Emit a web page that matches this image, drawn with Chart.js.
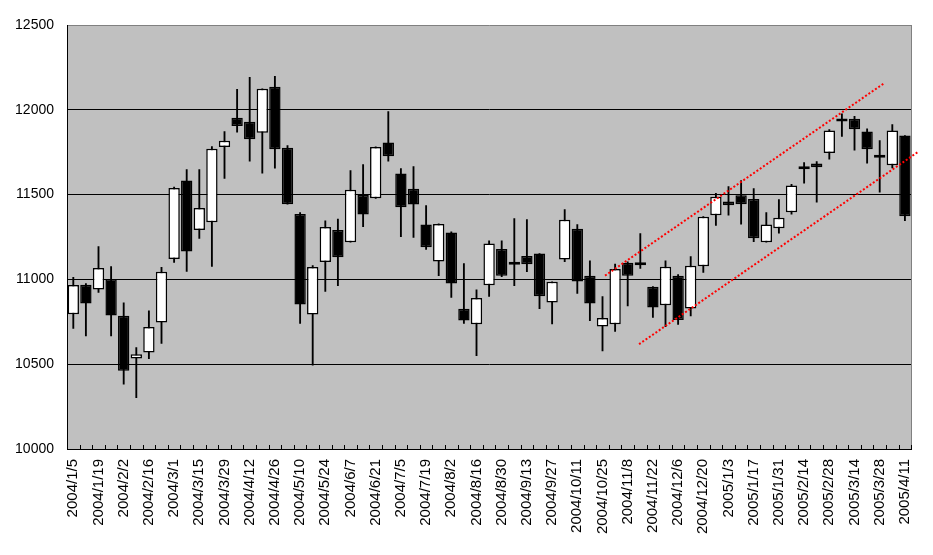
<!DOCTYPE html>
<html>
<head>
<meta charset="utf-8">
<script src="https://cdn.jsdelivr.net/npm/chart.js@4.4.1/dist/chart.umd.min.js"></script>
<style>
  body { margin: 0; background: #fff; }
  #grafico { display: block; }
</style>
</head>
<body>
<canvas id="grafico" width="933" height="555"></canvas>
<script>
const datas = [
  "2004/1/5", "2004/1/12", "2004/1/19", "2004/1/26", "2004/2/2", "2004/2/9", "2004/2/16", "2004/2/23",
  "2004/3/1", "2004/3/8", "2004/3/15", "2004/3/22", "2004/3/29", "2004/4/5", "2004/4/12", "2004/4/19",
  "2004/4/26", "2004/5/3", "2004/5/10", "2004/5/17", "2004/5/24", "2004/5/31", "2004/6/7", "2004/6/14",
  "2004/6/21", "2004/6/28", "2004/7/5", "2004/7/12", "2004/7/19", "2004/7/26", "2004/8/2", "2004/8/9",
  "2004/8/16", "2004/8/23", "2004/8/30", "2004/9/6", "2004/9/13", "2004/9/20", "2004/9/27", "2004/10/4",
  "2004/10/11", "2004/10/18", "2004/10/25", "2004/11/1", "2004/11/8", "2004/11/15", "2004/11/22", "2004/11/29",
  "2004/12/6", "2004/12/13", "2004/12/20", "2004/12/27", "2005/1/3", "2005/1/10", "2005/1/17", "2005/1/24",
  "2005/1/31", "2005/2/7", "2005/2/14", "2005/2/21", "2005/2/28", "2005/3/7", "2005/3/14", "2005/3/21",
  "2005/3/28", "2005/4/4", "2005/4/11"
];

const abertura = [
  10795, 10968, 10941, 11002, 10785, 10533, 10569, 10746, 11120, 11583, 11291, 11337, 11781, 11953, 11929, 11864,
  12136, 11776, 11386, 10793, 11102, 11291, 11219, 11498, 11478, 11807, 11624, 11535, 11323, 11106, 11276, 10827,
  10736, 10965, 11179, 11091, 11138, 11152, 10864, 11118, 11299, 11022, 10722, 10736, 11098, 11086, 10957, 10848,
  11022, 10829, 11077, 11378, 11459, 11496, 11474, 11219, 11301, 11396, 11650, 11683, 11746, 11936, 11947, 11872,
  11721, 11673, 11848
];

const maxima = [
  11012, 10975, 11193, 11075, 10862, 10598, 10815, 11071, 11545, 11648, 11648, 11783, 11872, 12120, 12191, 12124,
  12197, 11789, 11394, 11081, 11346, 11356, 11642, 11677, 11781, 11990, 11654, 11665, 11435, 11327, 11281, 11093,
  10939, 11228, 11228, 11358, 11352, 11152, 10986, 11411, 11323, 11110, 10898, 11091, 11104, 11270, 10957, 11110,
  11028, 11134, 11370, 11508, 11547, 11583, 11535, 11394, 11470, 11561, 11689, 11695, 11884, 11976, 11961, 11888,
  11819, 11913, 11848
];

const minimas = [
  10711, 10667, 10923, 10667, 10382, 10303, 10533, 10622, 11100, 11047, 11242, 11077, 11596, 11868, 11697, 11626,
  11656, 11443, 10740, 10494, 10929, 10963, 11219, 11311, 11478, 11697, 11252, 11248, 11177, 11022, 10894, 10740,
  10551, 10900, 11016, 10963, 11045, 10827, 10738, 11104, 10917, 10756, 10579, 10693, 10844, 11065, 10776, 10722,
  10734, 10785, 11041, 11319, 11378, 11325, 11222, 11219, 11272, 11384, 11567, 11455, 11709, 11843, 11762, 11685,
  11514, 11657, 11346
];

const fechamento = [
  10967, 10858, 11067, 10787, 10461, 10559, 10720, 11045, 11539, 11165, 11421, 11770, 11817, 11904, 11827, 12124,
  11768, 11443, 10852, 11073, 11309, 11130, 11528, 11382, 11781, 11726, 11425, 11441, 11189, 11327, 10976, 10758,
  10890, 11211, 11022, 11087, 11089, 10900, 10986, 11352, 10988, 10858, 10772, 11061, 11022, 11083, 10835, 11075,
  10760, 11081, 11370, 11488, 11437, 11443, 11242, 11323, 11364, 11553, 11663, 11661, 11878, 11931, 11886, 11768,
  11718, 11878, 11372
];

// linhas de tendencia (indice da semana, valor)
const tendenciaSuperior = [[42.2, 11022], [64.3, 12154]];
const tendenciaInferior = [[44.9, 10618], [67.05, 11752]];

const corpos = abertura.map((a, i) => [a, fechamento[i]]);
const pavios = minimas.map((m, i) => [m, maxima[i]]);
const coresCorpo = abertura.map((a, i) => fechamento[i] >= a ? "#ffffff" : "#000000");

const fundoGrafico = {
  id: "fundoGrafico",
  beforeDraw(chart) {
    const { ctx, chartArea: a } = chart;
    ctx.save();
    ctx.fillStyle = "#ffffff";
    ctx.fillRect(0, 0, chart.width, chart.height);
    ctx.fillStyle = "#c0c0c0";
    ctx.fillRect(a.left, a.top, a.right - a.left, a.bottom - a.top);
    ctx.restore();
  },
  afterDraw(chart) {
    const { ctx, chartArea: a, scales } = chart;
    ctx.save();

    // borda direita cinza
    ctx.strokeStyle = "#808080";
    ctx.lineWidth = 1;
    ctx.beginPath();
    ctx.moveTo(Math.round(a.right) + 0.5, a.top);
    ctx.lineTo(Math.round(a.right) + 0.5, a.bottom);
    ctx.stroke();

    // marcas do eixo x para dentro
    ctx.strokeStyle = "#000000";
    ctx.beginPath();
    for (let i = 0; i <= datas.length; i++) {
      const x = Math.round(scales.x.getPixelForValue(i - 0.5)) + 0.5;
      ctx.moveTo(x, a.bottom);
      ctx.lineTo(x, a.bottom - 4);
    }
    ctx.stroke();

    // linhas de tendencia
    ctx.strokeStyle = "#ff0000";
    ctx.lineWidth = 2;
    ctx.setLineDash([2, 2]);
    [tendenciaSuperior, tendenciaInferior].forEach((linha) => {
      ctx.beginPath();
      linha.forEach(([i, v], k) => {
        const x = scales.x.getPixelForValue(i);
        const y = scales.y.getPixelForValue(v);
        if (k === 0) ctx.moveTo(x, y);
        else ctx.lineTo(x, y);
      });
      ctx.stroke();
    });
    ctx.restore();
  }
};

const ctx = document.getElementById("grafico").getContext("2d");

new Chart(ctx, {
  type: "bar",
  data: {
    labels: datas,
    datasets: [
      {
        label: "corpo",
        data: corpos,
        backgroundColor: coresCorpo,
        borderColor: "#000000",
        borderWidth: 1.5,
        borderSkipped: false,
        barPercentage: 0.9,
        categoryPercentage: 1,
        minBarLength: 3,
        grouped: false,
        order: 1
      },
      {
        label: "pavio",
        data: pavios,
        backgroundColor: "#000000",
        barThickness: 1.2,
        grouped: false,
        order: 2
      }
    ]
  },
  options: {
    responsive: false,
    animation: false,
    layout: { padding: { left: 0, right: 12, top: 25, bottom: 0 } },
    plugins: {
      legend: { display: false },
      tooltip: { enabled: false }
    },
    scales: {
      x: {
        offset: true,
        grid: { display: false, drawTicks: false },
        border: { color: "#000000", width: 1 },
        ticks: {
          autoSkip: false,
          minRotation: 90,
          maxRotation: 90,
          padding: 10,
          color: "#000000",
          font: { family: "Liberation Sans", size: 15 },
          callback: (v, i) => i % 2 === 0 ? datas[i] : ""
        },
        afterFit: (scale) => { scale.height = 106; }
      },
      y: {
        min: 10000,
        max: 12500,
        ticks: {
          stepSize: 500,
          padding: 13,
          color: "#000000",
          font: { family: "Liberation Sans", size: 14 },
          callback: (v) => String(v)
        },
        grid: {
          drawTicks: false,
          color: (c) => c.tick && c.tick.value === 12500 ? "#808080" : "#000000",
          lineWidth: 1
        },
        border: { color: "#000000", width: 1 },
        afterFit: (scale) => { scale.width = 67; }
      }
    }
  },
  plugins: [fundoGrafico]
});
</script>
</body>
</html>
